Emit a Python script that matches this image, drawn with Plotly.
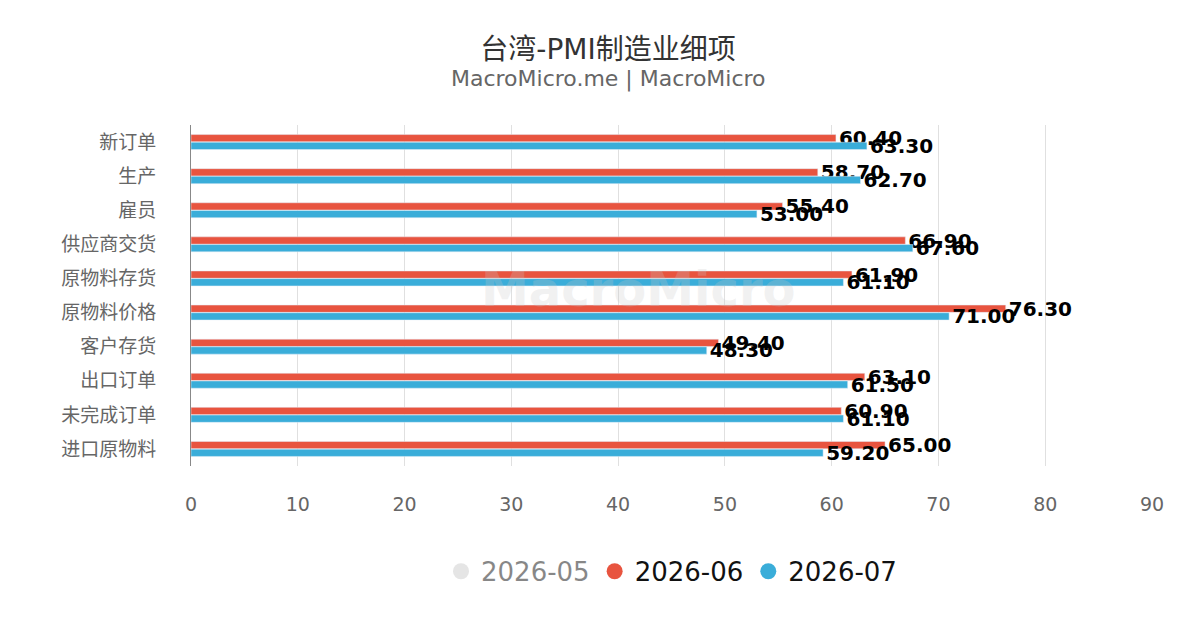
import plotly.graph_objects as go

categories = ["新订单","生产","雇员","供应商交货","原物料存货","原物料价格","客户存货","出口订单","未完成订单","进口原物料"]
v_2026_05 = [None]*10
v_2026_06 = [60.4,58.7,55.4,66.9,61.9,76.3,49.4,63.1,60.9,65.0]
v_2026_07 = [63.3,62.7,53.0,67.6,61.1,71.0,48.3,61.5,61.1,59.2]
series = [("2026-05", v_2026_05, "#cccccc"), ("2026-06", v_2026_06, "#e8543f"), ("2026-07", v_2026_07, "#3aadd9")]

fig = go.Figure()
for name, vals, col in series:
    vis = "legendonly" if name == "2026-05" else True
    fig.add_trace(go.Bar(y=categories, x=vals, orientation="h", name=name, marker_color=col,
                         text=[f"{v:.2f}" if v is not None else "" for v in vals],
                         textposition="outside", cliponaxis=False, constraintext="none",
                         textfont=dict(size=20, color="black", family="DejaVu Sans", weight="bold"),
                         showlegend=False, legendgroup=name, visible=vis))
    fig.add_trace(go.Scatter(x=[None], y=[None], mode="markers", name=name, legendgroup=name,
                             marker=dict(size=32, color=col, symbol="circle"), visible=vis))

fig.update_layout(
    width=1200, height=630, paper_bgcolor="white", plot_bgcolor="white",
    barmode="group", bargap=0.55, bargroupgap=0.05,
    font=dict(family="DejaVu Sans, Noto Sans CJK SC", color="#666"),
    title=dict(text="台湾-PMI制造业细项", xref="paper", x=(600 - 183) / 961,
               y=0.95, yanchor="top", font=dict(size=28, color="#333")),
    margin=dict(l=183, r=56, t=117, b=172),
    xaxis=dict(range=[0, 90], dtick=10, showgrid=True, gridcolor="#e0e0e0", zeroline=False,
               tickfont=dict(size=19, color="#666"), ticklabelstandoff=25),
    yaxis=dict(autorange="reversed", tickfont=dict(size=19, color="#666"), showline=True,
               linecolor="#888", ticks="", ticklabelstandoff=30),
    legend=dict(orientation="h", x=0.5, xanchor="center", y=-0.24, yanchor="top",
                font=dict(size=26, color="#111"), itemsizing="trace"),
    annotations=[dict(text="MacroMicro.me | MacroMicro", x=(600 - 183) / 961, xref="paper", yref="paper",
                      y=1 + 46 / 341, yanchor="middle",
                      showarrow=False, font=dict(size=22, color="#666")),
                 dict(text="MacroMicro", x=0.3, y=0.52, xref="paper", yref="paper", showarrow=False,
                      font=dict(size=48, color="rgba(200,200,200,0.25)", weight="bold"))],
)
fig.write_html("out.html")
